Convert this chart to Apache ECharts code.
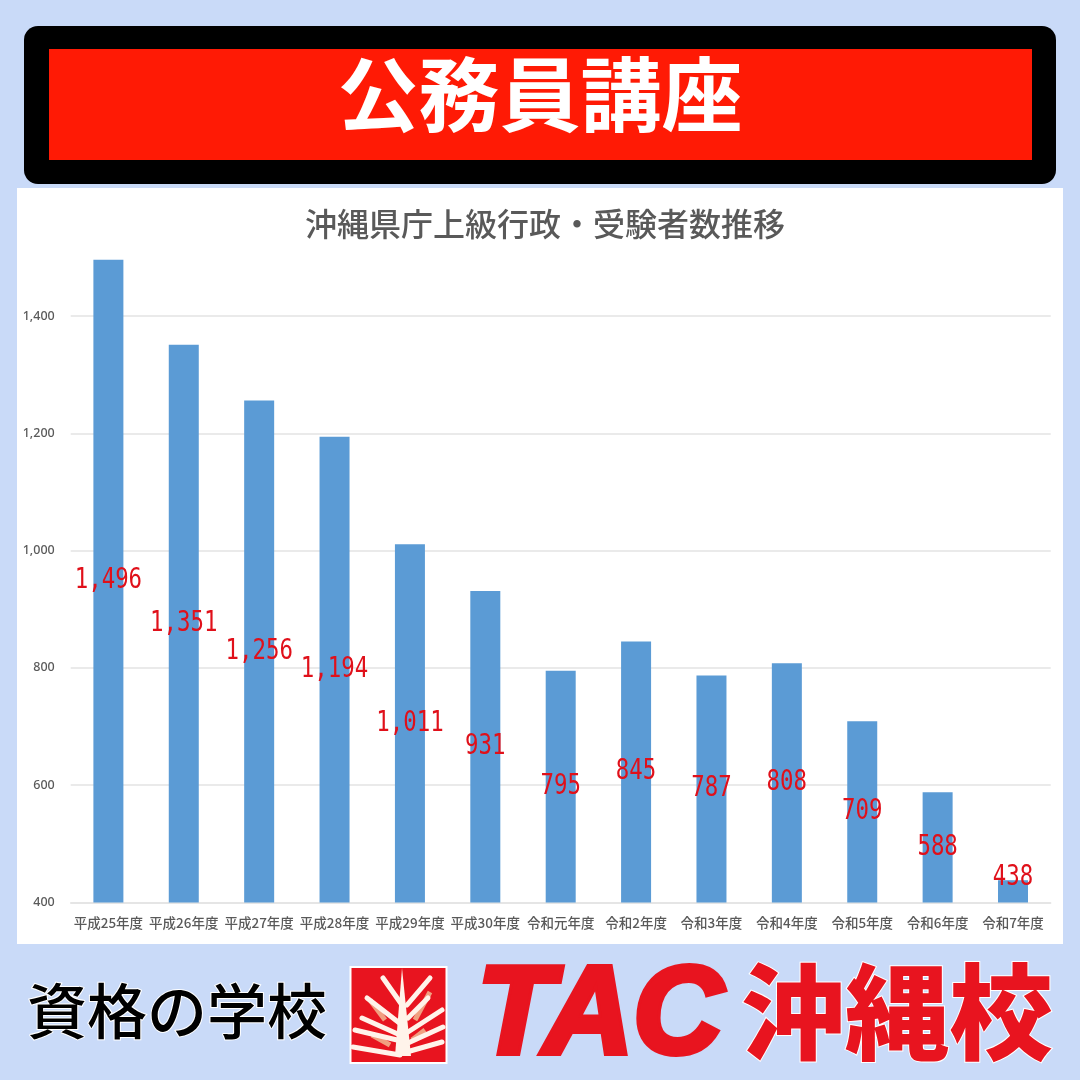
<!DOCTYPE html>
<html><head><meta charset="utf-8">
<style>html,body{margin:0;padding:0;background:#c9daf8}#c{width:1080px;height:1080px}</style>
<script src="https://cdn.jsdelivr.net/npm/echarts@6/dist/echarts.min.js"></script>
</head><body><div id="c"></div>
<script>
const categories = ['平成25年度','平成26年度','平成27年度','平成28年度','平成29年度','平成30年度','令和元年度','令和2年度','令和3年度','令和4年度','令和5年度','令和6年度','令和7年度'];
const examinees = [1496,1351,1256,1194,1011,931,795,845,787,808,709,588,438];
const chartTitle = '沖縄県庁上級行政・受験者数推移';
const headerText = '公務員講座';
const CJK = '"Noto Sans CJK JP","Noto Sans CJK SC",sans-serif';
const AXIS_MIN = 400;

const treeBranches = [
 [[383,978],[402,1005]],[[367,998],[402,1025]],[[362,1018],[400,1035]],[[355,1030],[397,1040]],[[353,1047],[400,1055]],
 [[430,978],[407,1005]],[[428,998],[408,1018]],[[442,1010],[408,1032]],[[443,1027],[408,1043]],[[442,1042],[403,1053]]
];
const treeShades = [[[370,1000],[385,1020]],[[430,992],[415,1020]],[[372,1035],[390,1045]],[[425,1030],[412,1040]]];

const chart = echarts.init(document.getElementById('c'), null, {renderer:'canvas'});
chart.setOption({
  animation:false,
  backgroundColor:'#c9daf8',
  title:{text:chartTitle,left:540,top:201,textAlign:'center',
    textStyle:{fontFamily:CJK,fontSize:32,fontWeight:500,color:'#595959',lineHeight:36}},
  grid:{left:70.7,right:29.3,top:257.4,height:645.1,containLabel:false},
  xAxis:{type:'category',data:categories,
    axisLine:{show:true,lineStyle:{color:'#e3e3e3',width:1.5}},axisTick:{show:false},
    axisLabel:{interval:0,margin:14,fontFamily:CJK,fontSize:13.5,fontWeight:500,color:'#595959'}},
  yAxis:{type:'value',min:AXIS_MIN,max:1500,interval:200,
    axisLine:{show:false},axisTick:{show:false},
    splitLine:{show:true,showMaxLine:false,lineStyle:{color:'#e3e3e3',width:1.5}},
    axisLabel:{showMaxLabel:false,margin:16,padding:[2,0,0,0],fontFamily:'"Noto Sans",sans-serif',fontSize:12.5,fontWeight:500,color:'#595959',
      formatter:v=>v.toLocaleString('en-US')}},
  series:[
    {type:'bar',barWidth:30,itemStyle:{color:'#5b9bd5'},data:examinees},
    {type:'custom',z:5,silent:true,data:examinees.map((v,i)=>[i,v]),encode:{x:0,y:1},clip:false,
     renderItem:(params,api)=>{
       const i=api.value(0), v=api.value(1);
       const p=api.coord([i,(v+AXIS_MIN)/2]);
       const lift = i===examinees.length-1 ? -14 : 0;
       return {type:'text',x:p[0],y:p[1]+lift,scaleX:0.8,
         style:{text:v.toLocaleString('en-US'),align:'center',verticalAlign:'middle',
           font:'28px "DejaVu Sans Mono",monospace',fill:'#e0101a'}};
     }}
  ],
  graphic:{elements:[
    {type:'rect',z:-10,shape:{x:17,y:188,width:1046,height:756},style:{fill:'#fff'}},
    {type:'rect',z:1,shape:{x:24,y:26,width:1032,height:158,r:14},style:{fill:'#000'}},
    {type:'rect',z:2,shape:{x:49,y:49,width:983,height:111},style:{fill:'#ff1a05'}},
    {type:'text',z:3,style:{text:headerText,x:540,y:94,align:'center',verticalAlign:'middle',
      font:'700 81px '+CJK,fill:'#fff'}},
    {type:'text',z:3,style:{text:'資格の学校',x:177,y:1011,align:'center',verticalAlign:'middle',
      font:'500 60px '+CJK,fill:'#000',stroke:'#fff',lineWidth:2}},
    {type:'rect',z:3,shape:{x:350.5,y:967,width:96,height:96},style:{fill:'#e8141f',stroke:'#fff',lineWidth:2}},
    ...treeShades.map(b=>({type:'polyline',z:4,shape:{points:b},style:{stroke:'#f0a080',lineWidth:5,fill:null}})),
    {type:'polygon',z:5,shape:{points:[[402,968],[395,1056],[411,1056]]},style:{fill:'#fff3ea'}},
    ...treeBranches.map(b=>({type:'polyline',z:5,shape:{points:b},style:{stroke:'#fff3ea',lineWidth:5,fill:null,lineCap:'round'}})),
    {type:'text',z:3,style:{text:'TAC',x:600,y:1019,align:'center',verticalAlign:'middle',
      font:'italic 700 124px "Liberation Sans",sans-serif',fill:'#e8141f',stroke:'#e8141f',lineWidth:6,shadowColor:'#fff',shadowBlur:3}},
    {type:'text',z:3,style:{text:'沖縄校',x:897,y:1012,align:'center',verticalAlign:'middle',
      font:'900 104px '+CJK,fill:'#e8141f',stroke:'#fff',lineWidth:2}}
  ]}
});
</script></body></html>
